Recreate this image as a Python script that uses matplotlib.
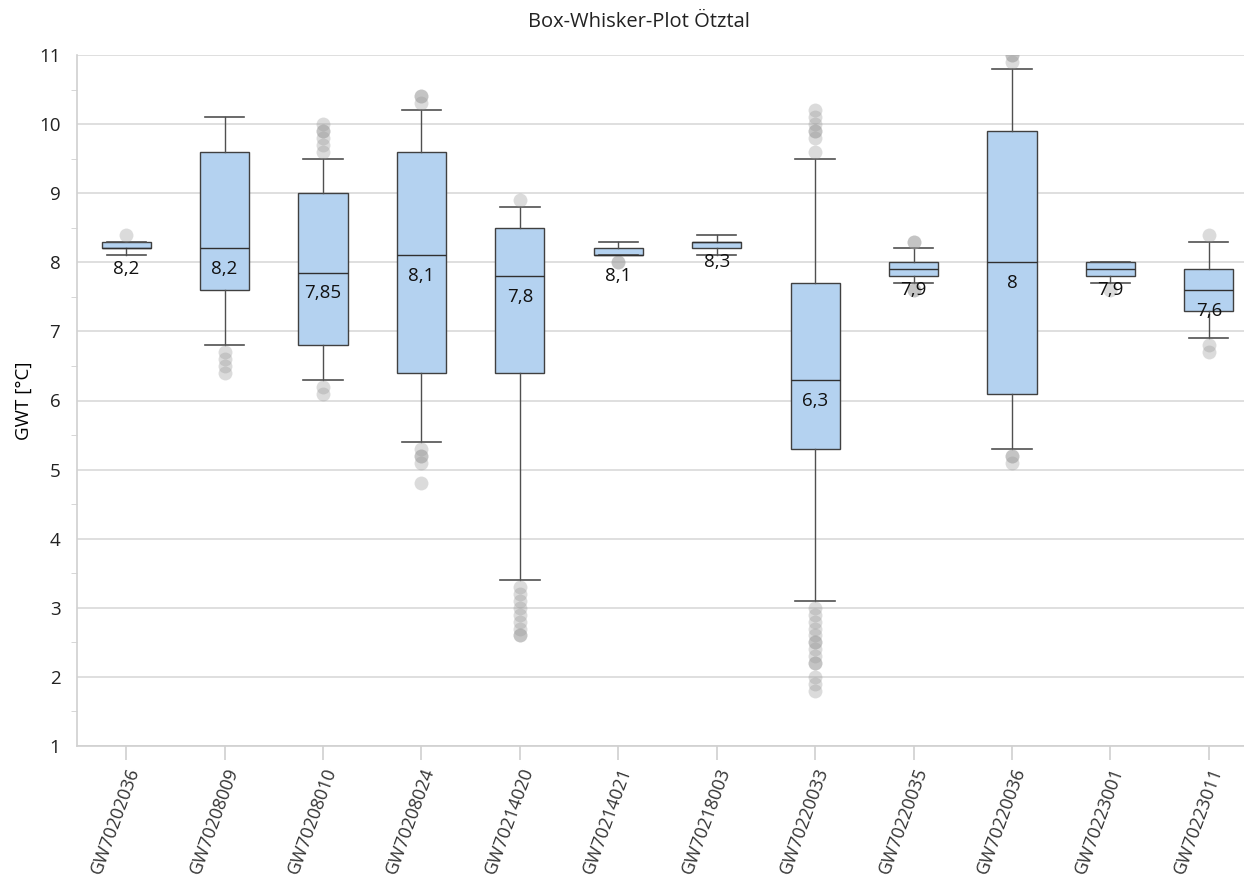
import matplotlib
matplotlib.use('Agg')
import matplotlib.pyplot as plt

plt.rcParams['font.family'] = ['Open Sans', 'DejaVu Sans']

# Messstellen und Kennwerte
stations = ['GW70202036', 'GW70208009', 'GW70208010', 'GW70208024',
            'GW70214020', 'GW70214021', 'GW70218003', 'GW70220033',
            'GW70220035', 'GW70220036', 'GW70223001', 'GW70223011']
q1 = [8.2, 7.6, 6.8, 6.4, 6.4, 8.1, 8.2, 5.3, 7.8, 6.1, 7.8, 7.3]
median = [8.2, 8.2, 7.85, 8.1, 7.8, 8.1, 8.3, 6.3, 7.9, 8.0, 7.9, 7.6]
q3 = [8.3, 9.6, 9.0, 9.6, 8.5, 8.2, 8.3, 7.7, 8.0, 9.9, 8.0, 7.9]
wlo = [8.1, 6.8, 6.3, 5.4, 3.4, 8.1, 8.1, 3.1, 7.7, 5.3, 7.7, 6.9]
whi = [8.3, 10.1, 9.5, 10.2, 8.8, 8.3, 8.4, 9.5, 8.2, 10.8, 8.0, 8.3]
outliers = [
    [8.4],
    [6.7, 6.6, 6.5, 6.4],
    [9.6, 9.7, 9.8, 9.9, 9.9, 10.0, 6.2, 6.1],
    [10.3, 10.4, 10.4, 5.3, 5.2, 5.2, 5.1, 4.8],
    [8.9, 3.3, 3.2, 3.1, 3.0, 2.9, 2.8, 2.7, 2.6, 2.6],
    [8.0, 8.0],
    [],
    [9.6, 9.8, 9.9, 9.9, 10.0, 10.1, 10.2, 3.0, 2.9, 2.8, 2.7, 2.6,
     2.5, 2.5, 2.4, 2.3, 2.2, 2.2, 2.0, 1.9, 1.8],
    [8.3, 8.3, 7.6, 7.6],
    [10.9, 11.0, 11.0, 5.2, 5.2, 5.1],
    [7.6],
    [8.4, 6.8, 6.7],
]
labels = ['8,2', '8,2', '7,85', '8,1', '7,8', '8,1', '8,3', '6,3',
          '7,9', '8', '7,9', '7,6']

stats = []
for i in range(len(stations)):
    stats.append(dict(med=median[i], q1=q1[i], q3=q3[i],
                      whislo=wlo[i], whishi=whi[i], fliers=outliers[i]))

fig = plt.figure(figsize=(12.44, 8.75), dpi=100)
ax = fig.add_axes([77 / 1244, 1 - 746 / 875, 1181 / 1244, 691 / 875])

ax.bxp(stats, positions=range(len(stations)), widths=0.5, patch_artist=True,
       boxprops=dict(facecolor='#b4d2f0', edgecolor='#404040', linewidth=1.0),
       medianprops=dict(color='#303030', linewidth=1.0),
       whiskerprops=dict(color='#505050', linewidth=1.0),
       capprops=dict(color='#505050', linewidth=1.2),
       capwidths=0.4,
       flierprops=dict(marker='o', markersize=10, markerfacecolor='#9a9a9a',
                       markeredgecolor='none', alpha=0.35))

for i, lab in enumerate(labels):
    ax.annotate(lab, (i, median[i]), xytext=(0, -15), textcoords='offset points',
                ha='center', va='center', fontsize=13.5, color='#111111')

ax.set_xlim(-0.5, 11.5)
ax.set_ylim(1, 11)
ax.set_yticks(range(1, 12))
ax.set_yticks([x + 0.5 for x in range(1, 11)], minor=True)
ax.grid(axis='y', color='#d9d9d9', linewidth=1.2)
ax.set_axisbelow(True)

ax.set_xticks(range(len(stations)))
ax.set_xticklabels(stations, rotation=70, ha='right', va='top',
                   rotation_mode='anchor', fontsize=13, color='#333333')
ax.tick_params(axis='x', length=10, color='#d0d0d0', width=1.2, pad=4)
ax.tick_params(axis='y', which='major', length=0, labelsize=13.5, pad=12,
               labelcolor='#222222')
ax.tick_params(axis='y', which='minor', length=4, color='#d0d0d0')

for s in ['top', 'right']:
    ax.spines[s].set_visible(False)
ax.spines['left'].set_color('#d0d0d0')
ax.spines['bottom'].set_color('#d0d0d0')
ax.spines['left'].set_linewidth(1.2)
ax.spines['bottom'].set_linewidth(1.2)

ax.set_ylabel('GWT [°C]', fontsize=13.5, labelpad=4)
fig.text(639 / 1244, 1 - 22 / 875, 'Box-Whisker-Plot Ötztal', ha='center',
         va='center', fontsize=14.5, color='#222222')

fig.savefig('out.png', dpi=100)
